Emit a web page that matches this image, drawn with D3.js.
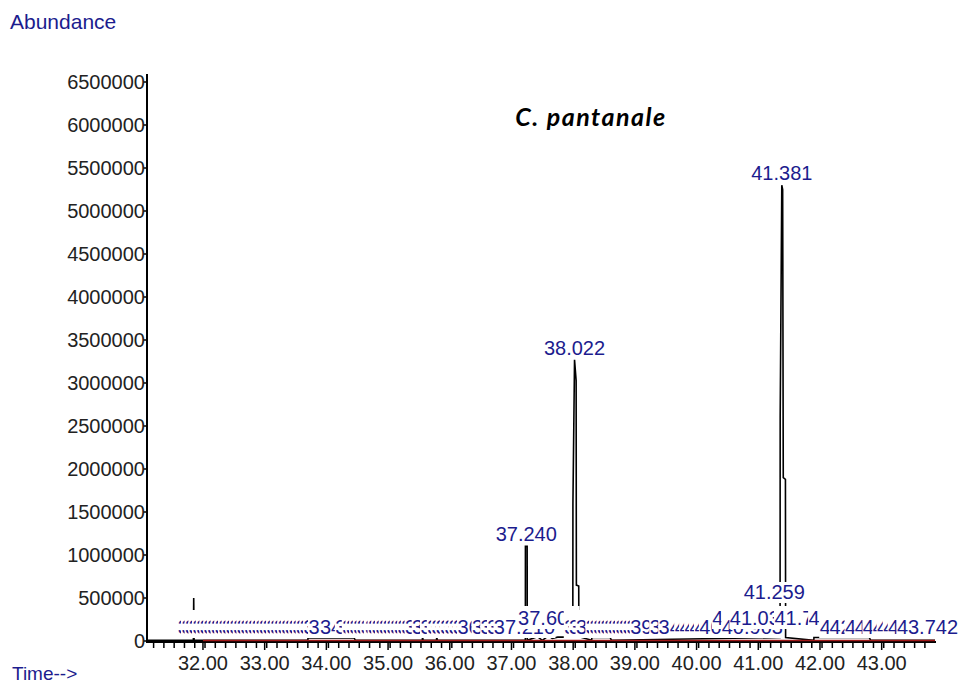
<!DOCTYPE html>
<html>
<head>
  <meta charset="utf-8">
  <title>C. pantanale</title>
  <script src="https://d3js.org/d3.v7.min.js"></script>
  <style>
    body { margin: 0; background: #fff; }
    svg text { font-family: "Liberation Sans", Arial, sans-serif; }
    .tick-label { font-size: 20px; fill: #222; }
    .blue { fill: #1c1c8e; }
    .title { font-family: Lato, "Open Sans", sans-serif !important; font-weight: bold; font-style: italic; font-size: 25px; letter-spacing: 1.5px; fill: #000; }
  </style>
</head>
<body>
  <svg id="chart" width="962" height="685"></svg>
  <script>
    // chromatogram trace (time in min, abundance)
    var traceTime = [31.093, 31.845, 31.850, 31.856, 33.700, 33.702, 34.450, 34.470, 35.555, 35.560, 35.566, 35.785, 35.790, 35.796,
      37.225, 37.226, 37.254, 37.256, 37.420, 37.500, 37.600, 37.660, 37.750, 37.950,
      37.994, 37.996, 38.022, 38.048, 38.050, 38.052, 38.090, 38.092, 38.300, 38.302, 38.600, 38.620,
      41.353, 41.355, 41.381, 41.395, 41.405, 41.440, 41.443, 41.900, 41.902, 42.800, 42.820, 43.864];
    var traceAbund = [8000, 8000, 500000, 8000, 8000, 35000, 35000, 8000, 8000, 70000, 8000, 8000, 60000, 8000,
      8000, 1100000, 1100000, 8000, 50000, 8000, 60000, 30000, 45000, 45000,
      60000, 1600000, 3270000, 3030000, 1600000, 650000, 640000, 50000, 8000, 40000, 40000, 8000,
      40000, 2620000, 5300000, 5250000, 1900000, 1880000, 40000, 8000, 40000, 40000, 8000, 8000];

    // labelled peaks above the trace
    var peakTimes = [37.240, 38.022, 41.381];
    var peakAbund = [1100000, 3270000, 5300000];

    // crowded integration labels along the baseline
    var lowRow = [32.086, 32.146, 32.205, 32.266, 32.325, 32.386, 32.445, 32.506, 32.565, 32.626, 32.685, 32.746,
      32.805, 32.866, 32.925, 32.986, 33.045, 33.106, 33.165, 33.226, 33.285, 33.346, 33.405, 33.466, 33.525, 33.586,
      33.645, 33.706, 33.765, 33.826, 33.885, 33.946, 34.005, 34.066, 34.125, 34.205, 34.392, 34.640,
      34.752, 34.812, 34.871, 34.931, 34.990, 35.051, 35.110, 35.170, 35.230, 35.290, 35.350, 35.410, 35.470, 35.530,
      35.590, 35.650, 35.710, 35.770, 35.885, 36.020, 36.130, 36.200, 36.270, 36.340, 36.410, 36.480, 36.550, 36.620,
      36.855, 36.995, 37.105, 37.210, 38.350, 38.430, 38.540, 38.700, 38.760, 38.820, 38.880, 38.940, 39.000, 39.060,
      39.120, 39.180, 39.240, 39.300, 39.360, 39.420, 39.735, 39.880, 40.062, 40.140, 40.220, 40.300, 40.380, 40.460,
      40.540, 40.903, 42.490, 42.650, 42.900, 43.060, 43.190, 43.350, 43.420, 43.520, 43.600, 43.742];
    var highRow = [37.603, 40.750, 41.034, 41.757, 42.310];
    var raisedLabel = [41.259];

    var xTicks = [32, 33, 34, 35, 36, 37, 38, 39, 40, 41, 42, 43];
    var yTicks = [0, 500000, 1000000, 1500000, 2000000, 2500000, 3000000, 3500000, 4000000, 4500000, 5000000,
      5500000, 6000000, 6500000];

    var svg = d3.select('#chart');
    var x = d3.scaleLinear().domain([31.093, 43.864]).range([147, 935]);
    var y = d3.scaleLinear().domain([0, 6500000]).range([641, 82]);
    var fmt = d3.format('.3f');

    // axes
    svg.append('line').attr('x1', 147).attr('x2', 147).attr('y1', 74).attr('y2', 643)
      .attr('stroke', '#000').attr('stroke-width', 2);
    svg.append('line').attr('x1', 146).attr('x2', 936).attr('y1', 642).attr('y2', 642)
      .attr('stroke', '#000').attr('stroke-width', 2);

    var yAxis = svg.selectAll('g.ytick').data(yTicks).enter().append('g').attr('class', 'ytick');
    yAxis.append('line').attr('x1', 143).attr('x2', 147)
      .attr('y1', function (d) { return y(d); }).attr('y2', function (d) { return y(d); })
      .attr('stroke', '#000').attr('stroke-width', 1.5);
    yAxis.append('text').attr('class', 'tick-label').attr('text-anchor', 'end')
      .attr('x', 145).attr('y', function (d) { return y(d) + 7; })
      .text(function (d) { return d; });

    var minor = d3.range(31.2, 43.86, 1 / 6);
    svg.selectAll('line.minor').data(minor).enter().append('line').attr('class', 'minor')
      .attr('x1', function (d) { return x(d); }).attr('x2', function (d) { return x(d); })
      .attr('y1', 642).attr('y2', 648).attr('stroke', '#000').attr('stroke-width', 1.5);
    var xAxis = svg.selectAll('g.xtick').data(xTicks).enter().append('g').attr('class', 'xtick');
    xAxis.append('line')
      .attr('x1', function (d) { return x(d); }).attr('x2', function (d) { return x(d); })
      .attr('y1', 642).attr('y2', 650).attr('stroke', '#000').attr('stroke-width', 1.5);
    xAxis.append('text').attr('class', 'tick-label').attr('text-anchor', 'middle')
      .attr('x', function (d) { return x(d); }).attr('y', 670)
      .text(function (d) { return d.toFixed(2); });

    // trace
    var pts = traceTime.map(function (t, i) { return [t, traceAbund[i]]; });
    var line = d3.line().x(function (d) { return x(d[0]); }).y(function (d) { return y(d[1]); });
    svg.append('path').attr('d', line(pts)).attr('fill', 'none')
      .attr('stroke', '#000').attr('stroke-width', 1.6);

    // integration baseline
    svg.append('line').attr('x1', x(32.0)).attr('x2', x(43.864)).attr('y1', 640.5).attr('y2', 640.5)
      .attr('stroke', '#a01818').attr('stroke-width', 1.5);

    // baseline labels, each on an opaque box, later ones on top
    var labels = lowRow.map(function (t) { return { t: t, base: 634, top: 24, h: 28 }; })
      .concat(highRow.map(function (t) { return { t: t, base: 625, top: 19, h: 23 }; }))
      .concat(raisedLabel.map(function (t) { return { t: t, base: 599, top: 17, h: 21 }; }))
      .sort(function (a, b) { return a.t - b.t; });
    var lg = svg.selectAll('g.lab').data(labels).enter().append('g').attr('class', 'lab');
    lg.append('rect').attr('x', function (d) { return x(d.t) - 31; }).attr('y', function (d) { return d.base - d.top; })
      .attr('width', 62).attr('height', function (d) { return d.h; }).attr('fill', '#fff');
    lg.append('text').attr('class', 'blue').attr('text-anchor', 'middle').style('font-size', '20px')
      .attr('x', function (d) { return x(d.t); }).attr('y', function (d) { return d.base; })
      .text(function (d) { return fmt(d.t); });

    // peak labels
    svg.selectAll('text.peak').data(peakTimes).enter().append('text').attr('class', 'peak blue')
      .attr('text-anchor', 'middle').style('font-size', '20px')
      .attr('x', function (d) { return x(d); })
      .attr('y', function (d, i) { return y(peakAbund[i]) - 5; })
      .text(function (d) { return fmt(d); });

    // titles
    svg.append('text').attr('class', 'blue').attr('x', 10).attr('y', 29).style('font-size', '21px').text('Abundance');
    svg.append('text').attr('class', 'blue').attr('x', 12).attr('y', 680).style('font-size', '19px').text('Time-->');
    svg.append('text').attr('class', 'title').attr('x', 591).attr('y', 126).attr('text-anchor', 'middle').text('C. pantanale');
  </script>
</body>
</html>
